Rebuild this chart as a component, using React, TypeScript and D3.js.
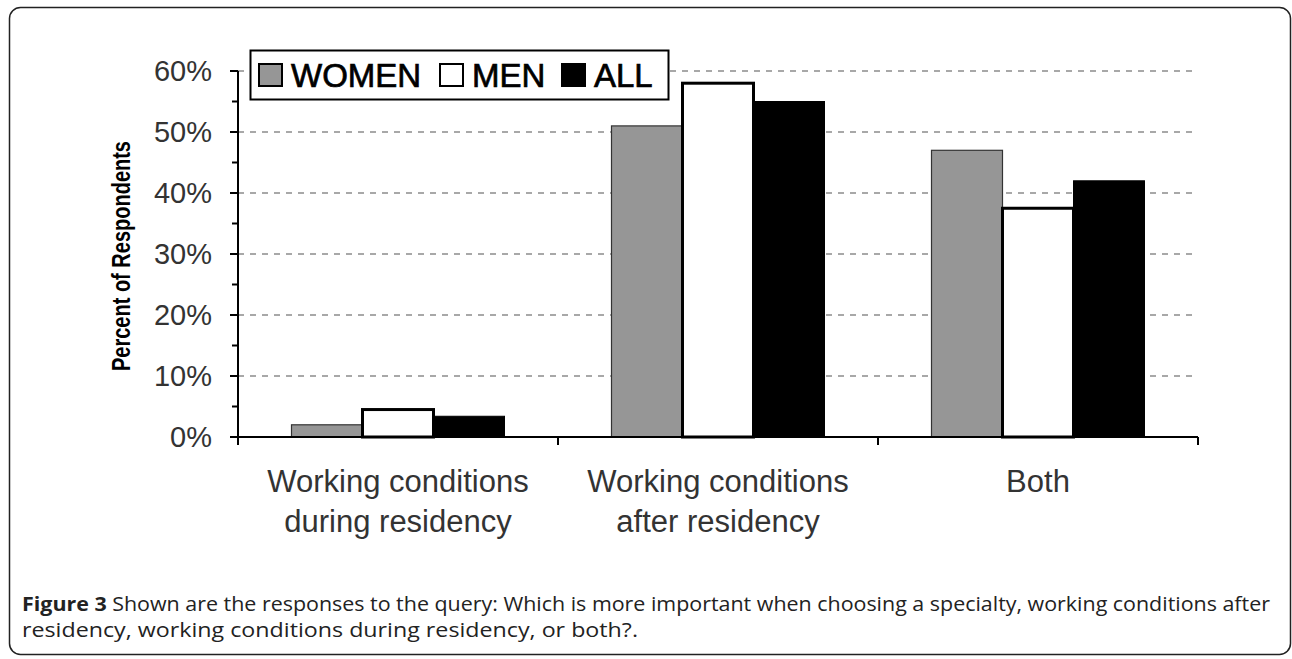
import { useEffect, useRef } from 'react';
import * as d3 from 'd3';

const categories = ['during', 'after', 'both'];
const categoryLabels = [
  ['Working conditions', 'during residency'],
  ['Working conditions', 'after residency'],
  ['Both'],
];
const seriesNames = ['WOMEN', 'MEN', 'ALL'];
const women = [2, 51, 47];
const men = [4.5, 58, 37.5];
const all = [3.4, 55, 42];
const yTicks = [0, 10, 20, 30, 40, 50, 60];
const yMinorTicks = [5, 15, 25, 35, 45, 55];
const captionBold = 'Figure 3';
const captionLine1 = ' Shown are the responses to the query: Which is more important when choosing a specialty, working conditions after';
const captionLine2 = 'residency, working conditions during residency, or both?.';

const fills = ['#969696', '#ffffff', '#000000'];
const strokes = ['#333', '#000', '#000'];
const strokeW = [1.2, 3, 1];

export default function App() {
  const svgRef = useRef<SVGSVGElement>(null);

  useEffect(() => {
    const svg = d3.select(svgRef.current);
    svg.selectAll('*').remove();

    const left = 238, right = 1198, top = 71, bottom = 437;
    const font = 'Liberation Sans, Arial, sans-serif';

    // outer frame
    svg.append('rect')
      .attr('x', 9.5).attr('y', 7.5)
      .attr('width', 1281).attr('height', 647)
      .attr('rx', 11)
      .attr('fill', 'white')
      .attr('stroke', '#222')
      .attr('stroke-width', 1.5);

    const x0 = d3.scaleBand().domain(categories).range([left, right]).padding(0);
    const x1 = d3.scaleBand().domain(seriesNames)
      .range([53.5, x0.bandwidth() - 53.5]).padding(0);
    const y = d3.scaleLinear().domain([0, 60]).range([bottom, top]);

    const g = svg.append('g');

    // gridlines
    g.selectAll('.grid')
      .data(yTicks.filter(t => t > 0))
      .enter()
      .append('line')
      .attr('x1', left).attr('x2', right - 3)
      .attr('y1', d => y(d)).attr('y2', d => y(d))
      .attr('stroke', '#a8a8a8')
      .attr('stroke-width', 2)
      .attr('stroke-dasharray', '6 6');

    const series = [women, men, all];
    series.forEach((vals, si) => {
      g.selectAll('.bar' + si)
        .data(vals)
        .enter()
        .append('rect')
        .attr('x', (d, i) => x0(categories[i])! + x1(seriesNames[si])!)
        .attr('y', d => y(d))
        .attr('width', x1.bandwidth())
        .attr('height', d => bottom - y(d))
        .attr('fill', fills[si])
        .attr('stroke', strokes[si])
        .attr('stroke-width', strokeW[si]);
    });

    // y axis
    g.append('line')
      .attr('x1', left).attr('x2', left)
      .attr('y1', top).attr('y2', bottom + 8)
      .attr('stroke', '#000').attr('stroke-width', 2);
    g.selectAll('.ytick')
      .data(yTicks)
      .enter()
      .append('line')
      .attr('x1', left - 8).attr('x2', left)
      .attr('y1', d => y(d)).attr('y2', d => y(d))
      .attr('stroke', '#000').attr('stroke-width', 2);
    g.selectAll('.yminor')
      .data(yMinorTicks)
      .enter()
      .append('line')
      .attr('x1', left - 6).attr('x2', left)
      .attr('y1', d => y(d)).attr('y2', d => y(d))
      .attr('stroke', '#000').attr('stroke-width', 2);
    g.selectAll('.ylabel')
      .data(yTicks)
      .enter()
      .append('text')
      .attr('x', 212)
      .attr('y', d => y(d))
      .attr('dy', '0.36em')
      .attr('text-anchor', 'end')
      .attr('font-family', font)
      .attr('font-size', 29)
      .attr('fill', '#333')
      .text(d => d + '%');

    // x axis
    g.append('line')
      .attr('x1', left).attr('x2', right)
      .attr('y1', bottom).attr('y2', bottom)
      .attr('stroke', '#000').attr('stroke-width', 2);
    g.selectAll('.xtick')
      .data(categories)
      .enter()
      .append('line')
      .attr('x1', d => x0(d)! + x0.bandwidth())
      .attr('x2', d => x0(d)! + x0.bandwidth())
      .attr('y1', bottom).attr('y2', bottom + 8)
      .attr('stroke', '#000').attr('stroke-width', 2);

    categoryLabels.forEach((lines, i) => {
      const cx = x0(categories[i])! + x0.bandwidth() / 2;
      const t = g.append('text')
        .attr('x', cx)
        .attr('y', 492)
        .attr('text-anchor', 'middle')
        .attr('font-family', font)
        .attr('font-size', 31)
        .attr('fill', '#333');
      lines.forEach((ln, li) => {
        t.append('tspan')
          .attr('x', cx)
          .attr('dy', li === 0 ? 0 : 40)
          .text(ln);
      });
    });

    // y title
    g.append('text')
      .attr('transform', `translate(130,${(top + bottom) / 2 + 2}) rotate(-90)`)
      .attr('text-anchor', 'middle')
      .attr('font-family', font)
      .attr('font-weight', 'bold')
      .attr('font-size', 26)
      .attr('textLength', 230)
      .attr('lengthAdjust', 'spacingAndGlyphs')
      .attr('fill', '#000')
      .text('Percent of Respondents');

    // legend
    const lg = svg.append('g');
    lg.append('rect')
      .attr('x', 250.5).attr('y', 50.5)
      .attr('width', 418).attr('height', 49)
      .attr('fill', 'white')
      .attr('stroke', '#000').attr('stroke-width', 2);
    const swatchX = [259, 440, 562];
    seriesNames.forEach((s, i) => {
      lg.append('rect')
        .attr('x', swatchX[i]).attr('y', 64)
        .attr('width', 23).attr('height', 22)
        .attr('fill', fills[i])
        .attr('stroke', '#000').attr('stroke-width', 2);
      lg.append('text')
        .attr('x', swatchX[i] + 32).attr('y', 87)
        .attr('font-family', font)
        .attr('font-size', 33)
        .attr('stroke', '#000').attr('stroke-width', 0.7)
        .attr('fill', '#000')
        .text(s);
    });

    // caption
    const cap = svg.append('text')
      .attr('x', 22).attr('y', 611)
      .attr('font-family', 'Open Sans, Noto Sans, sans-serif')
      .attr('font-size', 20)
      .attr('textLength', 1248)
      .attr('lengthAdjust', 'spacingAndGlyphs')
      .attr('fill', '#222');
    cap.append('tspan').attr('font-weight', 'bold').text(captionBold);
    cap.append('tspan').text(captionLine1);
    svg.append('text')
      .attr('x', 22).attr('y', 637)
      .attr('font-family', 'Open Sans, Noto Sans, sans-serif')
      .attr('font-size', 20)
      .attr('textLength', 616)
      .attr('lengthAdjust', 'spacingAndGlyphs')
      .attr('fill', '#222')
      .text(captionLine2);
  }, []);

  return (
    <svg ref={svgRef} width={1292} height={659}
      style={{ position: 'absolute', left: 0, top: 0, display: 'block' }} />
  );
}
